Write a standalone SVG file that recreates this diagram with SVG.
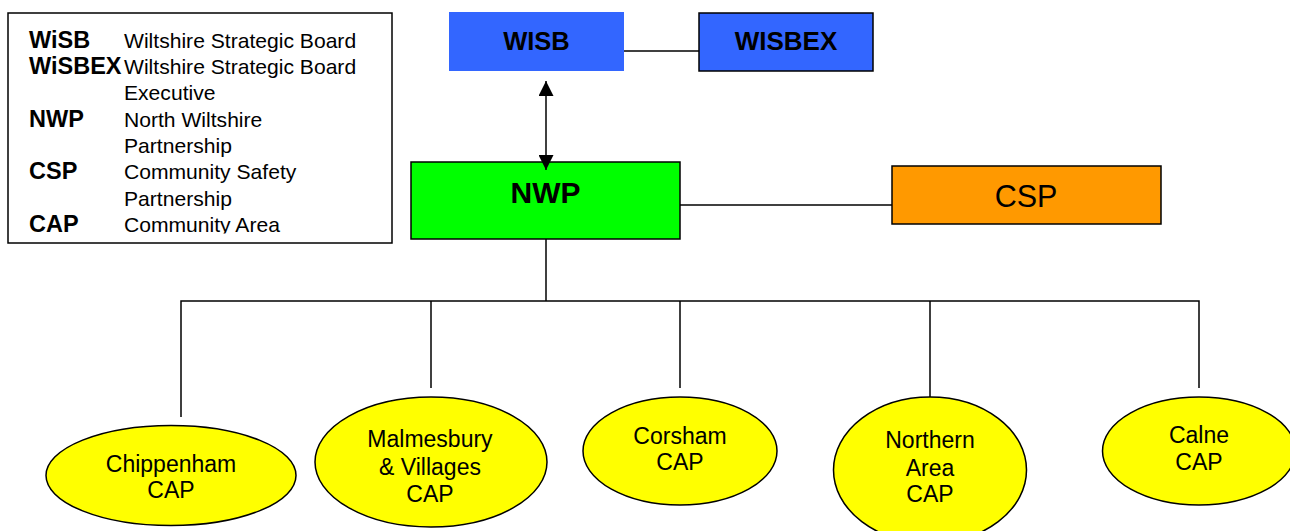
<svg xmlns="http://www.w3.org/2000/svg" width="1290" height="531" viewBox="0 0 1290 531">
<style>
.t{font-family:"Liberation Sans",Arial,sans-serif;fill:#000}
.b{font-weight:bold}
.lg{font-size:21.1px}
.lb{font-size:23.5px;font-weight:bold}
.cap{font-size:23px;text-anchor:middle}
.box{stroke:#000;stroke-width:1.5}
.ell{fill:#ffff00;stroke:#000;stroke-width:1.5}
.ln{stroke:#000;stroke-width:1.5;fill:none}
</style>
<defs>
<marker id="ah" viewBox="0 0 10 10" refX="10" refY="5" markerWidth="15" markerHeight="15" markerUnits="userSpaceOnUse" orient="auto-start-reverse">
<path d="M0,0 L10,5 L0,10 z" fill="#000"/>
</marker>
<clipPath id="lc"><rect x="9" y="14" width="382" height="219.5"/></clipPath>
</defs>
<g id="legend">
<rect x="8" y="13" width="384" height="230" fill="#fff" stroke="#000" stroke-width="1.5"/>
<g clip-path="url(#lc)">
<text class="t lb" x="29" y="47.5">WiSB</text>
<text class="t lg" x="124" y="47.5">Wiltshire Strategic Board</text>
<text class="t lb" x="29" y="74">WiSBEX</text>
<text class="t lg" x="124" y="74">Wiltshire Strategic Board</text>
<text class="t lg" x="124" y="100.3">Executive</text>
<text class="t lb" x="29" y="126.6">NWP</text>
<text class="t lg" x="124" y="126.6">North Wiltshire</text>
<text class="t lg" x="124" y="152.9">Partnership</text>
<text class="t lb" x="29" y="179.2">CSP</text>
<text class="t lg" x="124" y="179.2">Community Safety</text>
<text class="t lg" x="124" y="205.5">Partnership</text>
<text class="t lb" x="29" y="231.8">CAP</text>
<text class="t lg" x="124" y="231.8">Community Area</text>
</g>
</g>
<g id="wisb">
<rect x="449" y="12" width="175" height="59" fill="#3366ff"/>
<text class="t b" x="536.5" y="49.5" font-size="25.5" text-anchor="middle">WISB</text>
</g>
<g id="wisbex">
<rect class="box" x="699" y="13" width="174" height="58" fill="#3366ff"/>
<text class="t b" x="786" y="49.5" font-size="26" text-anchor="middle">WISBEX</text>
</g>
<g id="nwp">
<rect class="box" x="411" y="162" width="269" height="77" fill="#00ff00"/>
<text class="t b" x="545.5" y="202.5" font-size="30" text-anchor="middle">NWP</text>
</g>
<g id="csp">
<rect class="box" x="892" y="166" width="269" height="58" fill="#ff9900"/>
<text class="t" x="1026" y="207" font-size="30.5" text-anchor="middle">CSP</text>
</g>
<g id="chippenham">
<ellipse class="ell" cx="171" cy="475.5" rx="125" ry="50"/>
<text class="t cap" x="171" y="471.5">Chippenham</text>
<text class="t cap" x="171" y="498">CAP</text>
</g>
<g id="malmesbury">
<ellipse class="ell" cx="431" cy="462" rx="116" ry="65"/>
<text class="t cap" x="430" y="446.5">Malmesbury</text>
<text class="t cap" x="430" y="474.5">&amp; Villages</text>
<text class="t cap" x="430" y="501.5">CAP</text>
</g>
<g id="corsham">
<ellipse class="ell" cx="680" cy="451" rx="97" ry="54"/>
<text class="t cap" x="680" y="443.5">Corsham</text>
<text class="t cap" x="680" y="470">CAP</text>
</g>
<g id="northern">
<ellipse class="ell" cx="930" cy="470" rx="96.5" ry="73"/>
<text class="t cap" x="930" y="447.5">Northern</text>
<text class="t cap" x="930" y="475.5">Area</text>
<text class="t cap" x="930" y="502">CAP</text>
</g>
<g id="calne">
<ellipse class="ell" cx="1199" cy="451" rx="96.5" ry="54"/>
<text class="t cap" x="1199" y="443">Calne</text>
<text class="t cap" x="1199" y="470">CAP</text>
</g>
<g id="connectors">
<line class="ln" x1="624" y1="51" x2="699" y2="51"/>
<line class="ln" x1="546" y1="81" x2="546" y2="170" marker-start="url(#ah)" marker-end="url(#ah)"/>
<line class="ln" x1="680" y1="205" x2="892" y2="205"/>
<line class="ln" x1="546" y1="239" x2="546" y2="301"/>
<polyline class="ln" points="181,417 181,301 1199,301 1199,388"/>
<line class="ln" x1="431" y1="301" x2="431" y2="388"/>
<line class="ln" x1="680" y1="301" x2="680" y2="388"/>
<line class="ln" x1="930" y1="301" x2="930" y2="397"/>
</g>
</svg>
